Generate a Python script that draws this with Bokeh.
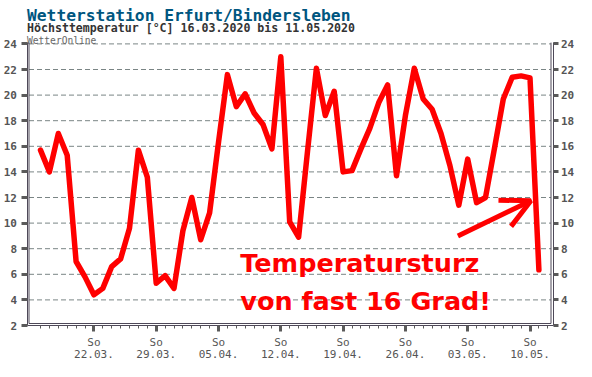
from bokeh.plotting import figure
from bokeh.models import (Range1d, LinearAxis, FixedTicker, Label, Arrow,
                          OpenHead, ColumnDataSource)
from bokeh.embed import file_html
from bokeh.resources import INLINE

# ---------------- data ----------------
temps = [15.7, 14.0, 17.0, 15.3, 7.0, 5.8, 4.4, 4.9, 6.6, 7.2,
         9.6, 15.7, 13.6, 5.3, 5.9, 4.9, 9.4, 12.0, 8.7, 10.8,
         16.3, 21.6, 19.1, 20.1, 18.6, 17.7, 15.8, 23.0, 10.1, 8.9,
         15.6, 22.1, 18.4, 20.3, 14.0, 14.1, 15.8, 17.4, 19.4, 20.8,
         13.7, 18.4, 22.1, 19.7, 18.9, 17.0, 14.5, 11.4, 15.0, 11.6,
         12.0, 15.8, 19.7, 21.4, 21.5, 21.35, 6.35]
days = list(range(len(temps)))          # 0 = 16.03.2020 ... 56 = 11.05.2020
sunday_idx = [6, 13, 20, 27, 34, 41, 48, 55]
sunday_labels = ["22.03.", "29.03.", "05.04.", "12.04.", "19.04.", "26.04.", "03.05.", "10.05."]
weekday_label = "So"
y_ticks = list(range(2, 25, 2))
minor_days = list(range(0, 58))

title_text = "Wetterstation Erfurt/Bindersleben"
subtitle_text = "Höchsttemperatur [°C] 16.03.2020 bis 11.05.2020"
source_text = "WetterOnline"
note_lines = ["Temperatursturz", "von fast 16 Grad!"]

# ---------------- layout constants ----------------
W, H = 576, 361
PX_DAY, PX_DEG = 8.9, 12.8
ORIG_X, ORIG_Y = 40.0, 325.0            # canvas px of day 0 / of 2 degC
XR = (-ORIG_X / PX_DAY, (W - ORIG_X) / PX_DAY)
YR = (2 - (H - ORIG_Y) / PX_DEG, 2 + ORIG_Y / PX_DEG)
X_LEFT = (26.5 - ORIG_X) / PX_DAY       # frame left (outer line)
X_RIGHT = (552.5 - ORIG_X) / PX_DAY     # frame right (outer line)
Y_BOT = 2.0
Y_TOP = 24.1
IN_X = 2 / PX_DAY
IN_Y = 2 / PX_DEG

AX = "#4e4858"
TK = "#5a5a5a"
RED = "#ff0000"
MONO = "DejaVu Sans Mono"

p = figure(width=W, height=H, output_backend="svg", toolbar_location=None,
           x_range=Range1d(*XR), y_range=Range1d(*YR),
           x_axis_location=None, y_axis_location=None, title_location=None,
           min_border=0)
p.outline_line_color = None
p.background_fill_color = "white"
p.border_fill_color = "white"
p.grid.visible = False

# dashed horizontal grid
gy = y_ticks[1:]
p.segment(x0=[X_LEFT + IN_X] * len(gy), x1=[X_RIGHT - IN_X] * len(gy), y0=gy, y1=gy,
          line_color="#7a8585", line_dash="5 3", line_width=1)

# inner frame lines (double border look)
p.segment(x0=[X_LEFT + IN_X, X_RIGHT - IN_X, X_LEFT + IN_X],
          x1=[X_LEFT + IN_X, X_RIGHT - IN_X, X_RIGHT - IN_X],
          y0=[Y_BOT + IN_Y, Y_BOT + IN_Y, Y_BOT + IN_Y],
          y1=[Y_TOP, Y_TOP, Y_BOT + IN_Y],
          line_color=AX, line_width=1)

# bottom axis
ax_b = LinearAxis(ticker=FixedTicker(ticks=sunday_idx, minor_ticks=minor_days),
                  fixed_location=Y_BOT, bounds=(X_LEFT, X_RIGHT))
ax_b.major_label_overrides = {i: f"{weekday_label}\n{l}" for i, l in zip(sunday_idx, sunday_labels)}
ax_b.axis_line_color = AX
ax_b.major_tick_out = 6
ax_b.major_tick_in = 0
ax_b.major_tick_line_width = 3
ax_b.major_tick_line_color = TK
ax_b.minor_tick_out = 3
ax_b.minor_tick_in = 0
ax_b.minor_tick_line_color = TK
ax_b.major_label_standoff = 4
ax_b.major_label_text_font = MONO
ax_b.major_label_text_font_size = "11px"
ax_b.major_label_text_color = "#555555"
ax_b.major_label_text_line_height = 0.95
p.add_layout(ax_b, "below")

for side, loc, standoff, tick_out in (("left", X_LEFT, 4, 6), ("right", X_RIGHT, 3, 5)):
    ax = LinearAxis(ticker=FixedTicker(ticks=y_ticks, minor_ticks=[]),
                    fixed_location=loc, bounds=(Y_BOT, Y_TOP))
    ax.axis_line_color = AX
    ax.major_tick_out = tick_out
    ax.major_tick_in = 0
    ax.major_tick_line_width = 3
    ax.major_tick_line_color = TK
    ax.minor_tick_line_color = None
    ax.major_label_standoff = standoff
    ax.major_label_text_font = MONO
    ax.major_label_text_font_size = "11px"
    ax.major_label_text_font_style = "bold"
    ax.major_label_text_color = "#555555"
    p.add_layout(ax, side)

# data line
src = ColumnDataSource(dict(day=days, t=temps))
p.line("day", "t", source=src, line_color=RED, line_width=5.5, line_join="round", line_cap="round")

# titles (placed by canvas pixel rows)
def y_at(py):
    return 2 + (ORIG_Y - py) / PX_DEG

p.add_layout(Label(x=X_LEFT, y=y_at(15), text=title_text, text_font=MONO,
                   text_font_size="16.3px", text_font_style="bold", text_color="#00567f",
                   text_baseline="alphabetic"))
p.add_layout(Label(x=X_LEFT, y=y_at(27), text=subtitle_text, text_font=MONO,
                   text_font_size="11.6px", text_font_style="bold", text_color="#333333",
                   text_baseline="alphabetic"))
p.add_layout(Label(x=X_LEFT, y=y_at(39.5), text=source_text, text_font=MONO,
                   text_font_size="9.6px", text_color="#666666",
                   text_baseline="alphabetic"))

# annotation
NOTE_X = 22.45
NOTE_Y = [6.92, 3.95]
for txt, yy in zip(note_lines, NOTE_Y):
    p.add_layout(Label(x=NOTE_X, y=yy, text=txt, text_font="DejaVu Sans",
                       text_font_size="25.5px", text_font_style="bold", text_color=RED,
                       text_baseline="alphabetic"))

ARROW_START = (46.9, 9.0)
ARROW_END = (55.1, 11.75)
p.add_layout(Arrow(end=OpenHead(size=29, line_color=RED, line_width=5),
                   x_start=ARROW_START[0], y_start=ARROW_START[1],
                   x_end=ARROW_END[0], y_end=ARROW_END[1],
                   line_color=RED, line_width=5))

open("out.html", "w").write(file_html(p, INLINE))
